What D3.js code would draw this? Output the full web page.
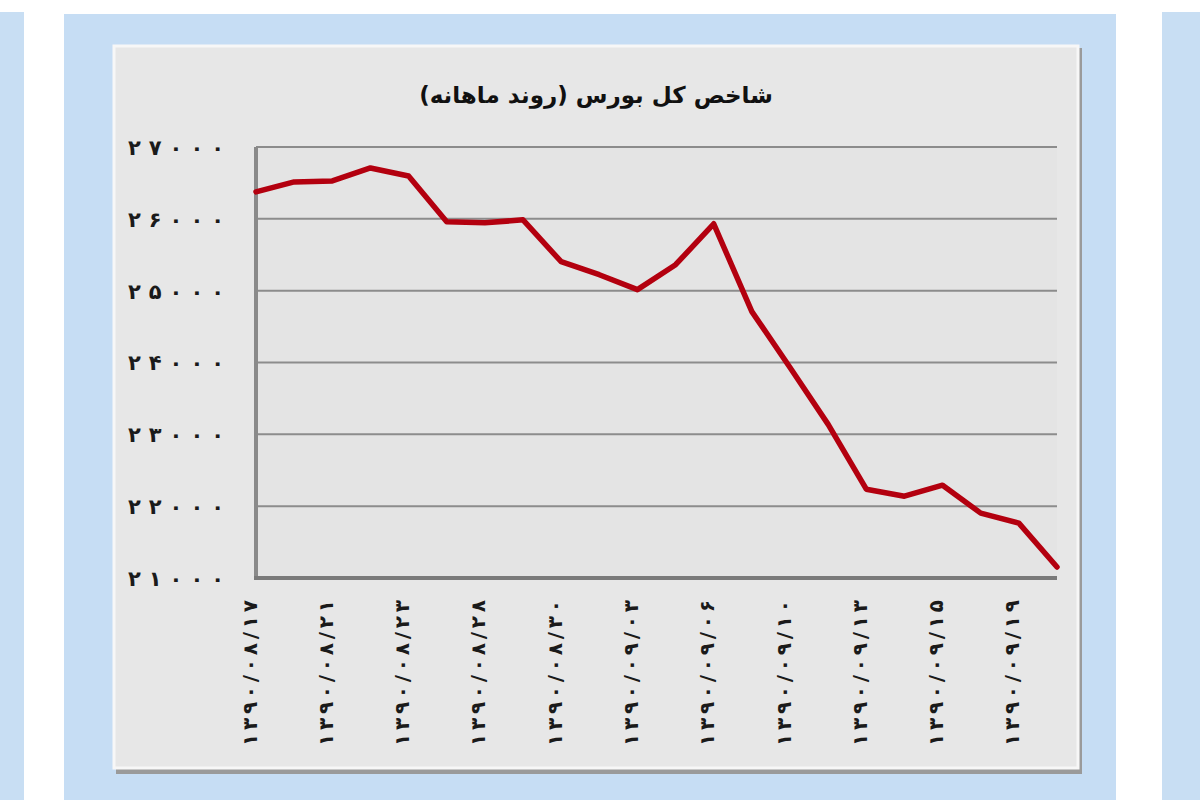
<!DOCTYPE html>
<html><head><meta charset="utf-8">
<script src="https://cdn.jsdelivr.net/npm/d3@7"></script>
<style>
html,body{margin:0;padding:0;background:#fff;}
svg{display:block;}
</style></head>
<body>
<svg id="c" width="1200" height="800"></svg>
<script>
const title = "شاخص کل بورس (روند ماهانه)";
const dates = ["۱۳۹۰/۰۸/۱۷","۱۳۹۰/۰۸/۱۸","۱۳۹۰/۰۸/۲۱","۱۳۹۰/۰۸/۲۲","۱۳۹۰/۰۸/۲۳","۱۳۹۰/۰۸/۲۴","۱۳۹۰/۰۸/۲۸","۱۳۹۰/۰۸/۲۹","۱۳۹۰/۰۸/۳۰","۱۳۹۰/۰۹/۰۱","۱۳۹۰/۰۹/۰۳","۱۳۹۰/۰۹/۰۵","۱۳۹۰/۰۹/۰۶","۱۳۹۰/۰۹/۰۷","۱۳۹۰/۰۹/۱۰","۱۳۹۰/۰۹/۱۲","۱۳۹۰/۰۹/۱۳","۱۳۹۰/۰۹/۱۴","۱۳۹۰/۰۹/۱۵","۱۳۹۰/۰۹/۱۷","۱۳۹۰/۰۹/۱۹","۱۳۹۰/۰۹/۲۰"];
const values = [26375,26514,26528,26708,26597,25958,25944,25986,25403,25222,25014,25361,25931,24708,23931,23139,22236,22139,22292,21903,21764,21153];
const yTicks = [21000,22000,23000,24000,25000,26000,27000];

const faDigits = s => String(s).replace(/\d/g, d => "۰۱۲۳۴۵۶۷۸۹"[+d]);

const svg = d3.select("#c");
// backgrounds
svg.append("rect").attr("x",0).attr("y",0).attr("width",1200).attr("height",800).attr("fill","#ffffff");
svg.append("rect").attr("x",0).attr("y",12).attr("width",24).attr("height",788).attr("fill","#c8def3");
svg.append("rect").attr("x",1162).attr("y",12).attr("width",38).attr("height",788).attr("fill","#c8def3");
svg.append("rect").attr("x",64).attr("y",14).attr("width",1052).attr("height",786).attr("fill","#c6ddf4");
// inner panel shadow + panel
svg.append("rect").attr("x",116).attr("y",48).attr("width",966).attr("height",726).attr("fill","#9a9a9a");
svg.append("rect").attr("x",114).attr("y",46).attr("width",964).attr("height",722).attr("fill","#e7e7e7");
svg.append("rect").attr("x",114).attr("y",46).attr("width",964).attr("height",722).attr("fill","none").attr("stroke","#f7f7f7").attr("stroke-width",3);

const pL = 256, pR = 1057, pT = 147, pB = 578;
const x = d3.scalePoint().domain(dates).range([pL, pR]);
const y = d3.scaleLinear().domain([21000, 27000]).range([pB, pT]);

// plot area
svg.append("rect").attr("x",pL).attr("y",pT).attr("width",pR-pL).attr("height",pB-pT).attr("fill","#e4e4e4");

// grid
svg.append("g").selectAll("line").data(yTicks).join("line")
  .attr("x1",pL).attr("x2",pR)
  .attr("y1",d=>y(d)).attr("y2",d=>y(d))
  .attr("stroke","#8c8c8c").attr("stroke-width",2);

// y axis
const yAxis = d3.axisLeft(y).tickValues(yTicks).tickSize(0).tickPadding(0).tickFormat(d=>faDigits(d));
const gy = svg.append("g").attr("transform",`translate(224,0)`).call(yAxis);
gy.select(".domain").remove();
gy.selectAll("text").attr("font-family","'DejaVu Sans', sans-serif").attr("font-weight","bold").attr("font-size",21)
  .attr("textLength",96).attr("lengthAdjust","spacing").attr("fill","#1a1a1a").attr("dy","0.35em");

// axis lines
svg.append("line").attr("x1",pL).attr("x2",pL).attr("y1",pT).attr("y2",pB+2).attr("stroke","#8a8a8a").attr("stroke-width",4);
svg.append("line").attr("x1",pL-2).attr("x2",pR).attr("y1",pB).attr("y2",pB).attr("stroke","#7a7a7a").attr("stroke-width",4);

// x axis labels (every other)
const labelDates = dates.filter((d,i)=>i%2===0);
const xAxis = d3.axisBottom(x).tickValues(labelDates).tickSize(0).tickPadding(0);
const gx = svg.append("g").attr("transform",`translate(-5,${pB})`).call(xAxis);
gx.select(".domain").remove();
gx.selectAll("text")
  .attr("font-family","'DejaVu Sans', sans-serif").attr("font-weight","bold").attr("font-size",20).attr("fill","#1a1a1a")
  .attr("textLength",146).attr("lengthAdjust","spacing")
  .attr("text-anchor","end")
  .attr("transform","rotate(-90)")
  .attr("x",-22).attr("y",-2).attr("dy","0.35em")
  .style("direction","ltr").style("unicode-bidi","bidi-override");

// line
const line = d3.line().x((d,i)=>x(dates[i])).y(d=>y(d));
svg.append("path").datum(values).attr("d",line).attr("fill","none")
  .attr("stroke","#b3000f").attr("stroke-width",5.5).attr("stroke-linejoin","round").attr("stroke-linecap","round");

// title
svg.append("text").attr("x",596).attr("y",103).attr("text-anchor","middle").attr("direction","rtl")
  .attr("font-family","'DejaVu Sans', sans-serif").attr("font-weight","bold").attr("font-size",23).attr("fill","#111")
  .text(title);
</script>
</body></html>
